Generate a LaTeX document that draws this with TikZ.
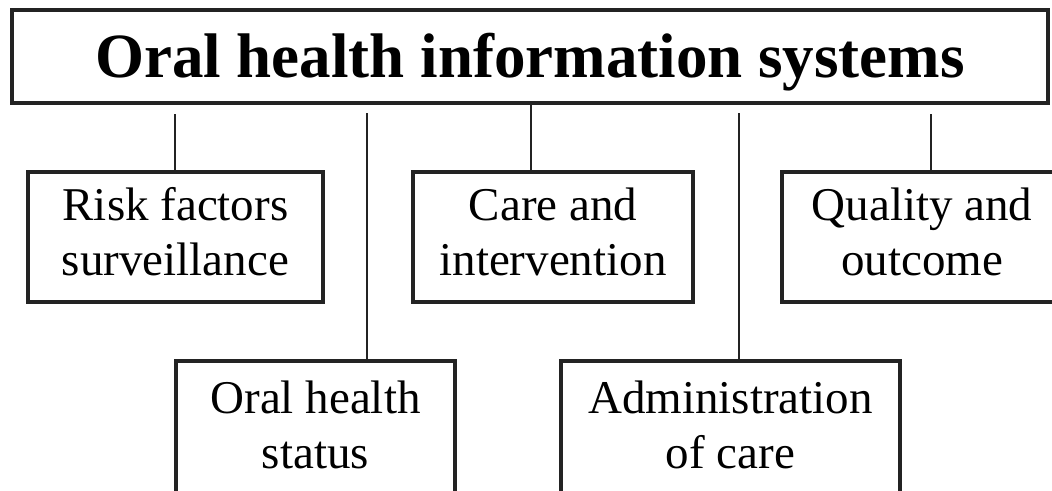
\documentclass[tikz,border=0pt]{standalone}
\usepackage{fontspec}
\setmainfont{Liberation Serif}
\definecolor{ink}{RGB}{35,35,35}
\begin{document}
\begin{tikzpicture}[x=1pt,y=-1pt,
  box/.style={draw=ink, line width=3.2pt, align=center, inner sep=0pt,
    font=\fontsize{47}{55}\selectfont, minimum height=130pt},
  link/.style={draw=ink, line width=2.5pt}]
\useasboundingbox (0,0) rectangle (1052,490);
\clip (0,0) rectangle (1052,490);
\node[box, minimum width=1036pt, minimum height=93pt,
  font=\fontsize{63}{70}\selectfont\bfseries, text height=41pt, text depth=0pt]
  (title) at (530,56.5) {Oral health information systems};
\node[box, minimum width=295pt] (risk) at (175.5,237) {\strut Risk factors\\\strut surveillance};
\node[box, minimum width=280pt] (care) at (553,237) {\strut Care and\\\strut intervention};
\node[box, minimum width=280pt] (quality) at (922,237) {\strut Quality and\\\strut outcome};
\node[box, minimum width=279pt, minimum height=138pt] (status) at (315.5,430) {\strut Oral health\\\strut status};
\node[box, minimum width=339pt, minimum height=138pt] (admin) at (730.5,430) {\strut Administration\\\strut of care};
\coordinate (t1) at (175,114);
\coordinate (t2) at (367,113);
\coordinate (t4) at (739,113);
\coordinate (t5) at (931,114);
\draw[link] (t1) -- (t1 |- risk.north);
\draw[link] (t2) -- (t2 |- status.north);
\draw[link] (title.south) ++(1,0) coordinate (t3) -- (t3 |- care.north);
\draw[link] (t4) -- (t4 |- admin.north);
\draw[link] (t5) -- (t5 |- quality.north);
\end{tikzpicture}
\end{document}
